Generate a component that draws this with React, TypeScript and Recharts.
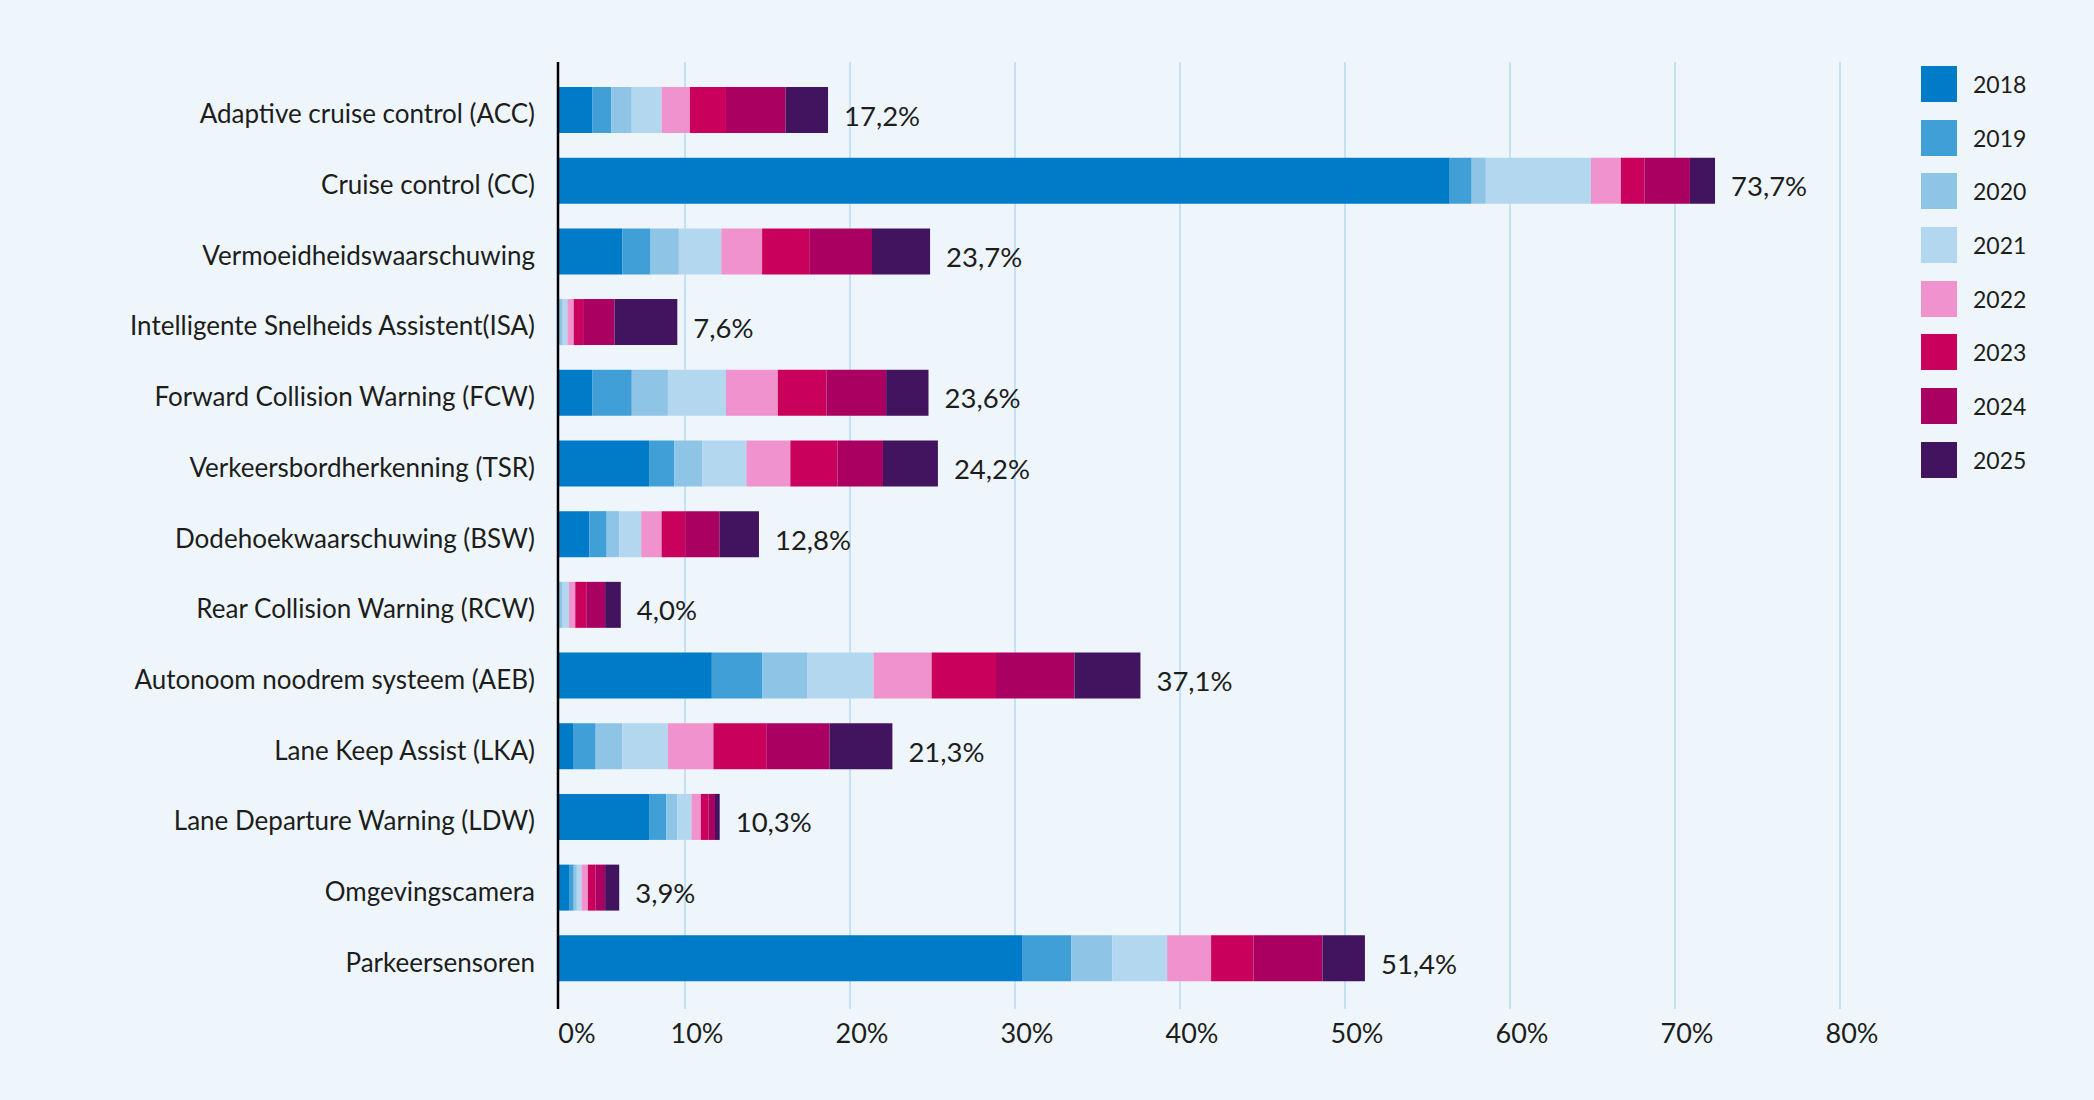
import React from "react";
import {
  BarChart,
  Bar,
  XAxis,
  YAxis,
  CartesianGrid,
  Legend,
  LabelList,
} from "recharts";

document.body.style.margin = "0";
document.body.style.background = "#EEF6FC";

const categories = [
  "Adaptive cruise control (ACC)",
  "Cruise control (CC)",
  "Vermoeidheidswaarschuwing",
  "Intelligente Snelheids Assistent(ISA)",
  "Forward Collision Warning (FCW)",
  "Verkeersbordherkenning (TSR)",
  "Dodehoekwaarschuwing (BSW)",
  "Rear Collision Warning (RCW)",
  "Autonoom noodrem systeem (AEB)",
  "Lane Keep Assist (LKA)",
  "Lane Departure Warning (LDW)",
  "Omgevingscamera",
  "Parkeersensoren",
];

const years = ["2018", "2019", "2020", "2021", "2022", "2023", "2024", "2025"];

const y2018 = [2.2, 56.8, 4.1, 0, 2.2, 5.8, 2.0, 0, 9.8, 1.0, 5.8, 0.7, 29.6];
const y2019 = [1.2, 1.4, 1.8, 0, 2.5, 1.6, 1.1, 0.1, 3.2, 1.4, 1.1, 0.3, 3.1];
const y2020 = [1.3, 0.9, 1.8, 0.3, 2.3, 1.8, 0.8, 0.2, 2.9, 1.7, 0.7, 0.2, 2.6];
const y2021 = [1.9, 6.7, 2.7, 0.3, 3.7, 2.8, 1.4, 0.4, 4.2, 2.9, 0.9, 0.3, 3.5];
const y2022 = [1.8, 1.9, 2.6, 0.4, 3.3, 2.8, 1.3, 0.4, 3.7, 2.9, 0.6, 0.4, 2.8];
const y2023 = [2.3, 1.5, 3.0, 0.6, 3.1, 3.0, 1.5, 0.7, 4.1, 3.4, 0.5, 0.5, 2.7];
const y2024 = [3.8, 2.9, 4.0, 2.0, 3.8, 2.9, 2.2, 1.2, 5.0, 4.0, 0.4, 0.6, 4.4];
const y2025 = [2.7, 1.6, 3.7, 4.0, 2.7, 3.5, 2.5, 1.0, 4.2, 4.0, 0.3, 0.9, 2.7];

// total share per system, shown right of each bar
const totals = [17.2, 73.7, 23.7, 7.6, 23.6, 24.2, 12.8, 4.0, 37.1, 21.3, 10.3, 3.9, 51.4];

// the grid axis starts a little before 0%, its first tick is the bar origin
const gridStart = 2.3;
const gridTicks = [gridStart, 10, 20, 30, 40, 50, 60, 70, 80];

const colors = [
  "#007BC7",
  "#419FD7",
  "#8EC4E6",
  "#B3D7EE",
  "#F092CD",
  "#CA005D",
  "#A90061",
  "#42145F",
];

const series = [y2018, y2019, y2020, y2021, y2022, y2023, y2024, y2025];

const data = categories.map((name, i) => {
  const row: Record<string, string | number> = { name, total: totals[i] };
  years.forEach((yr, j) => {
    row[yr] = series[j][i];
  });
  return row;
});

const textColor = "#1D1D1B";

const formatPct = (v: number) => `${v.toFixed(1).replace(".", ",")}%`;

const renderTotal = (props: any) => {
  const { x, y, width, height, value } = props;
  return (
    <text
      x={Number(x) + Number(width) + 16}
      y={Number(y) + Number(height) / 2 + 5}
      dominantBaseline="central"
      fontSize={27.5}
      fill={textColor}
    >
      {formatPct(Number(value))}
    </text>
  );
};

const CategoryTick = (props: any) => {
  const { x, y, payload } = props;
  return (
    <text
      x={x}
      y={y + 3}
      textAnchor="end"
      dominantBaseline="central"
      fontSize={26}
      fill={textColor}
    >
      {payload.value}
    </text>
  );
};

const PercentTick = (props: any) => {
  const { x, y, payload } = props;
  const isOrigin = payload.value === gridStart;
  return (
    <text
      x={x + (isOrigin ? 19 : 12)}
      y={y + 10}
      textAnchor="middle"
      dominantBaseline="central"
      fontSize={27}
      fill={textColor}
    >
      {isOrigin ? "0%" : `${payload.value}%`}
    </text>
  );
};

const YearLegend = () => (
  <div style={{ display: "flex", flexDirection: "column", gap: 17.7 }}>
    {years.map((yr, i) => (
      <div key={yr} style={{ display: "flex", alignItems: "center", height: 36 }}>
        <div style={{ width: 36, height: 36, background: colors[i] }} />
        <span style={{ marginLeft: 16, fontSize: 23, color: textColor }}>{yr}</span>
      </div>
    ))}
  </div>
);

const App = () => {
  return (
    <div
      style={{
        width: 2094,
        height: 1100,
        background: "#EEF6FC",
        fontFamily: "Lato, 'Noto Sans', sans-serif",
      }}
    >
      <BarChart
        width={2094}
        height={1100}
        data={data}
        layout="vertical"
        margin={{ top: 62, right: 254, bottom: 0, left: 0 }}
        barSize={46}
      >
        <CartesianGrid
          xAxisId="grid"
          horizontal={false}
          stroke="#A8D4EF"
          strokeWidth={1.2}
        />
        <XAxis
          xAxisId="grid"
          type="number"
          domain={[gridStart, 80]}
          allowDataOverflow
          ticks={gridTicks}
          axisLine={false}
          tickLine={false}
          height={91}
          tickMargin={7}
          tick={<PercentTick />}
        />
        <XAxis
          xAxisId="bar"
          type="number"
          domain={[0, 81.66]}
          allowDataOverflow
          height={0}
          hide
        />
        <YAxis
          type="category"
          dataKey="name"
          width={558}
          padding={{ top: 13, bottom: 15 }}
          axisLine={{ stroke: "#000000", strokeWidth: 2.5 }}
          tickLine={false}
          tickMargin={17}
          tick={<CategoryTick />}
          interval={0}
        />
        <Legend
          layout="vertical"
          align="center"
          verticalAlign="middle"
          wrapperStyle={{ left: 1921, top: 66 }}
          content={() => <YearLegend />}
        />
        {years.map((yr, i) => (
          <Bar
            key={yr}
            dataKey={yr}
            name={yr}
            xAxisId="bar"
            stackId="a"
            fill={colors[i]}
            isAnimationActive={false}
          >
            {i === years.length - 1 && (
              <LabelList dataKey="total" content={renderTotal} />
            )}
          </Bar>
        ))}
      </BarChart>
    </div>
  );
};

export default App;
